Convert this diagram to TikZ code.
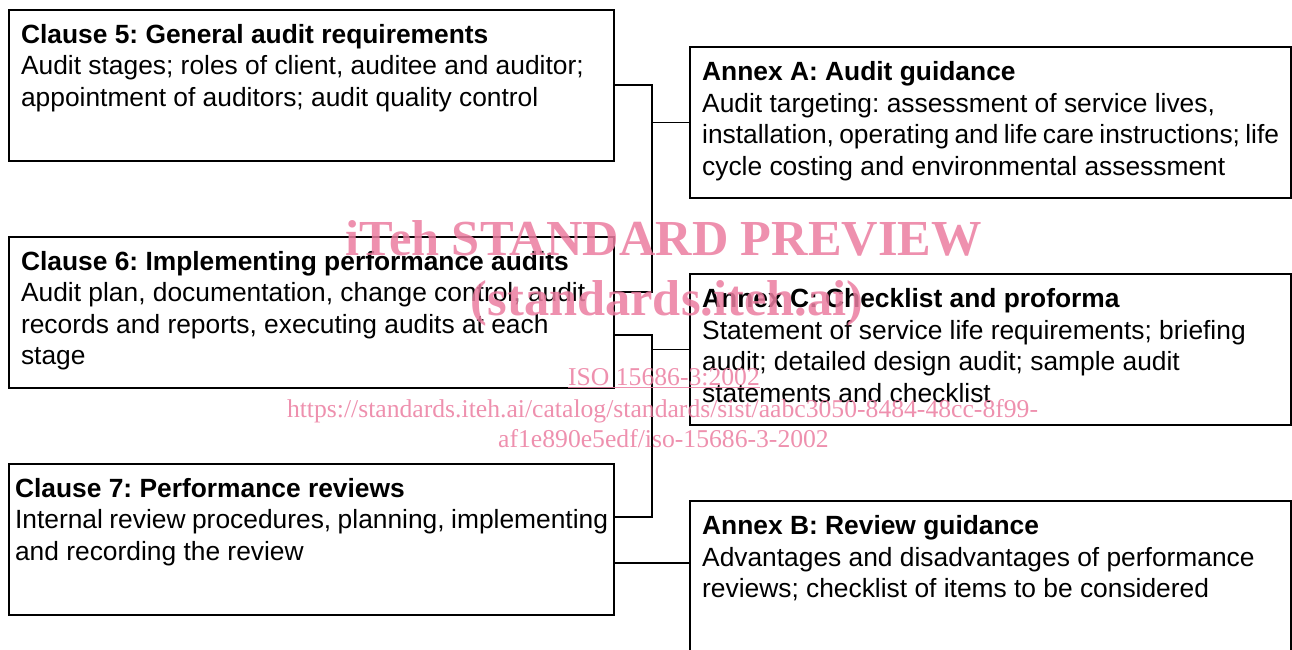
\documentclass[tikz,border=0pt]{standalone}
\usepackage{fontspec}
\setmainfont{Liberation Sans}
\newfontfamily\wmfont{Liberation Serif}
\usetikzlibrary{positioning}
\frenchspacing
\definecolor{wmpink}{RGB}{235,125,160}
\newcommand{\boxtext}[3][11.62cm]{\parbox[t][2.44cm][t]{#1}{\textbf{#2}\\#3}}
\tikzset{
clausebox/.style={
  draw=black,
  line width=1.2pt,
  anchor=north west,
  inner xsep=0.24cm,
  inner ysep=0.29cm,
  font=\fontsize{15pt}{17.9pt}\selectfont
},
annexbox/.style={
  clausebox
},
linkline/.style={
  line width=0.9pt,
  draw=black
},
wmtext/.style={
  text=wmpink,
  opacity=0.85,
  anchor=base,
  inner sep=0pt
}
}

\begin{document}
\begin{tikzpicture}[node distance=1.48cm and 1.48cm]
\useasboundingbox (0,0) rectangle (25.84,-12.98);

\node[clausebox] (c5) at (0.16,-0.17) {\boxtext{Clause 5: General audit requirements}{Audit stages; roles of client, auditee and auditor;\\appointment of auditors; audit quality control}};
\node[clausebox, below=of c5] (c6) {\boxtext{Clause 6: Implementing performance audits}{Audit plan, documentation, change control, audit\\records and reports, executing audits at each\\stage}};
\node[clausebox, below=of c6, inner xsep=0.12cm] (c7) {\boxtext[11.86cm]{Clause 7: Performance reviews}{Internal review procedures, planning, implementing\\and recording the review}};

\node[annexbox, right=of c5, yshift=-0.75cm] (annexA) {\boxtext[11.54cm]{Annex A: Audit guidance}{Audit targeting: assessment of service lives,\\installation, operating and life care instructions; life\\cycle costing and environmental assessment}};
\node[annexbox, below=of annexA] (annexC) {\boxtext[11.54cm]{Annex C: Checklist and proforma}{Statement of service life requirements; briefing\\audit; detailed design audit; sample audit\\statements and checklist}};
\node[annexbox, below=of annexC] (annexB) {\boxtext[11.54cm]{Annex B: Review guidance}{Advantages and disadvantages of performance\\reviews; checklist of items to be considered}};

% connectors
\coordinate (busx) at ([xshift=0.74cm]c5.east);
\coordinate (c6up) at ([yshift=0.40cm]c6.east);
\coordinate (c6dn) at ([yshift=-0.46cm]c6.east);
\coordinate (c7up) at ([yshift=0.45cm]c7.east);
\coordinate (c7dn) at ([yshift=-0.47cm]c7.east);

\draw[linkline] (c5.east) -- (busx) |- (c6up);
\draw[linkline] (busx |- annexA.west) -- (annexA.west);
\draw[linkline] (c6dn) -| (busx |- c7up) -- (c7up);
\draw[linkline] (busx |- annexC.west) -- (annexC.west);
\draw[linkline] (c7dn) -- (c7dn -| annexB.west);

% watermark
\node[wmtext, font=\wmfont\bfseries\fontsize{28.7pt}{30pt}\selectfont] (wmtitle) at (13.28,-5.10) {iTeh STANDARD PREVIEW};
\node[wmtext, font=\wmfont\bfseries\fontsize{28.7pt}{30pt}\selectfont] (wmsite) at (13.34,-6.30) {(standards.iteh.ai)};
\node[wmtext, font=\wmfont\fontsize{14.6pt}{16pt}\selectfont] (wmiso) at (13.28,-7.70) {\underline{ISO 15686-3:2002}};
\node[wmtext, font=\wmfont\fontsize{14.6pt}{16pt}\selectfont] (wmurla) at (13.25,-8.34) {https://standards.iteh.ai/catalog/standards/sist/aabc3050-8484-48cc-8f99-};
\node[wmtext, font=\wmfont\fontsize{14.6pt}{16pt}\selectfont] (wmurlb) at (13.27,-8.94) {af1e890e5edf/iso-15686-3-2002};

\end{tikzpicture}
\end{document}
